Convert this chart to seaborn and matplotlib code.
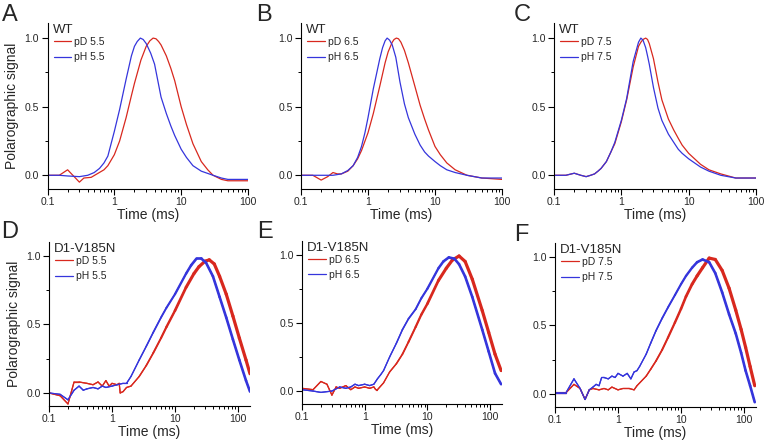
import numpy as np
import pandas as pd
import matplotlib
matplotlib.use("Agg")
import matplotlib.pyplot as plt
import matplotlib.ticker as mticker
from matplotlib.collections import LineCollection
import seaborn as sns

# ---- data (time in ms, normalised signal) ----
t_a_red = [0.1, 0.15, 0.2, 0.3, 0.35, 0.45, 0.55, 0.7, 0.8, 1.0, 1.2, 1.5, 1.8, 2.0, 2.5, 3.0, 3.4, 3.8, 4.2, 4.6, 5.0,
           6.0, 7.0, 8.0, 10, 12, 15, 20, 25, 30, 40, 50, 70, 100]
red_a = [0.0, 0.0, 0.04, -0.05, -0.02, -0.015, 0.01, 0.04, 0.07, 0.15, 0.25, 0.42, 0.58, 0.67, 0.84, 0.94, 0.98, 1.0, 0.995, 0.975, 0.95,
         0.87, 0.78, 0.69, 0.50, 0.37, 0.23, 0.10, 0.04, 0.0, -0.03, -0.04, -0.04, -0.04]
t_a_blue = [0.1, 0.15, 0.2, 0.3, 0.4, 0.5, 0.6, 0.7, 0.8, 1.0, 1.2, 1.5, 1.8, 2.0, 2.2, 2.45, 2.7, 3.0, 3.5, 4.0, 5.0, 6.0,
            7.0, 8.0, 10, 12, 15, 20, 30, 40, 50, 70, 100]
blue_a = [0.0, 0.0, -0.005, -0.01, 0.0, 0.02, 0.05, 0.09, 0.14, 0.32, 0.48, 0.70, 0.87, 0.94, 0.975, 1.0, 0.99, 0.96, 0.89, 0.81, 0.57, 0.45,
          0.36, 0.29, 0.19, 0.13, 0.07, 0.03, 0.0, -0.02, -0.03, -0.03, -0.03]

t_b_red = [0.1, 0.15, 0.2, 0.25, 0.3, 0.35, 0.4, 0.5, 0.6, 0.7, 0.8, 1.0, 1.2, 1.5, 1.8, 2.0, 2.3, 2.45, 2.65, 2.85, 3.1, 3.5,
           4.0, 5.0, 6.0, 7.0, 8.0, 10, 12, 15, 20, 30, 50, 100]
red_b = [0.0, 0.0, -0.035, -0.01, 0.02, 0.01, 0.01, 0.03, 0.07, 0.12, 0.18, 0.31, 0.45, 0.65, 0.82, 0.90, 0.97, 0.99, 1.0, 0.995, 0.97, 0.91,
         0.82, 0.65, 0.51, 0.41, 0.33, 0.21, 0.15, 0.09, 0.04, 0.0, -0.02, -0.03]
t_b_blue = [0.1, 0.2, 0.3, 0.4, 0.5, 0.6, 0.7, 0.8, 0.9, 1.0, 1.2, 1.5, 1.65, 1.8, 1.93, 2.1, 2.3, 2.6, 3.0, 3.5, 4.0, 5.0,
            6.0, 7.0, 8.0, 10, 12, 15, 20, 30, 50, 100]
blue_b = [0.0, 0.0, 0.0, 0.01, 0.035, 0.07, 0.13, 0.21, 0.31, 0.42, 0.63, 0.85, 0.93, 0.98, 1.0, 0.985, 0.95, 0.86, 0.68, 0.52, 0.42, 0.30,
          0.22, 0.17, 0.14, 0.10, 0.07, 0.04, 0.02, 0.0, -0.02, -0.02]

t_c = [0.1, 0.15, 0.2, 0.25, 0.3, 0.35, 0.4, 0.45, 0.5, 0.6, 0.7, 0.8, 1.0, 1.2, 1.5, 1.8, 1.95, 2.1, 2.3, 2.45, 2.6, 3.0,
       3.5, 4.0, 5.0, 6.0, 7.0, 8.0, 10, 15, 20, 30, 50, 100]
red_c = [0.0, 0.0, 0.015, 0.0, -0.01, 0.0, 0.01, 0.03, 0.05, 0.10, 0.17, 0.23, 0.39, 0.55, 0.79, 0.94, 0.97, 0.99, 1.0, 0.99, 0.96, 0.85,
         0.68, 0.55, 0.41, 0.33, 0.27, 0.22, 0.16, 0.08, 0.04, 0.01, -0.02, -0.02]
blue_c = [0.0, 0.0, 0.015, 0.0, -0.01, 0.0, 0.01, 0.03, 0.05, 0.10, 0.17, 0.24, 0.40, 0.56, 0.83, 0.97, 1.0, 0.985, 0.93, 0.87, 0.81, 0.64,
          0.49, 0.40, 0.30, 0.24, 0.19, 0.16, 0.12, 0.06, 0.03, 0.0, -0.02, -0.02]

t_d_red = [0.1, 0.15, 0.2, 0.25, 0.3, 0.4, 0.5, 0.6, 0.7, 0.8, 0.9, 1.0, 1.2, 1.3, 1.35, 1.5, 1.7, 2.0, 2.7, 3.5,
           4.5, 6, 7.3, 10, 15, 20, 24, 30, 35, 42, 51, 65, 83, 105, 134, 155]
red_d = [0.0, -0.02, -0.08, 0.08, 0.08, 0.07, 0.06, 0.08, 0.05, 0.09, 0.05, 0.07, 0.06, 0.07, 0.0, 0.01, 0.04, 0.05, 0.12, 0.20,
         0.29, 0.40, 0.48, 0.60, 0.77, 0.87, 0.92, 0.96, 0.97, 0.94, 0.85, 0.72, 0.56, 0.40, 0.24, 0.14]
t_d_blue = [0.1, 0.15, 0.2, 0.25, 0.3, 0.35, 0.4, 0.5, 0.6, 0.7, 0.8, 1.0, 1.2, 1.5, 1.7, 2.0, 2.7, 3.5, 4.5, 6,
            7.3, 10, 15, 18, 22, 26, 31, 40, 51, 65, 83, 105, 134, 155]
blue_d = [0.0, -0.01, -0.05, 0.02, 0.05, 0.02, 0.03, 0.04, 0.03, 0.05, 0.04, 0.05, 0.06, 0.07, 0.07, 0.12, 0.24, 0.34, 0.44, 0.55,
          0.62, 0.72, 0.87, 0.93, 0.98, 0.98, 0.95, 0.85, 0.70, 0.55, 0.39, 0.24, 0.09, 0.01]

t_e_red = [0.1, 0.15, 0.2, 0.25, 0.3, 0.35, 0.4, 0.5, 0.6, 0.7, 0.8, 1.0, 1.2, 1.4, 1.5, 1.6, 2.0, 2.5, 3.2, 4,
           5, 6.5, 8, 10, 15, 20, 25, 32, 40, 52, 75, 95, 120, 150]
red_e = [0.02, 0.01, 0.07, 0.05, -0.03, 0.03, 0.02, 0.04, 0.01, 0.03, 0.02, 0.03, 0.02, 0.03, 0.01, 0.01, 0.06, 0.14, 0.20, 0.27,
         0.36, 0.47, 0.56, 0.64, 0.81, 0.90, 0.96, 0.99, 0.95, 0.82, 0.59, 0.43, 0.27, 0.15]
t_e_blue = [0.1, 0.15, 0.2, 0.3, 0.4, 0.5, 0.6, 0.7, 0.8, 1.0, 1.2, 1.4, 1.6, 1.8, 2.0, 2.5, 3.2, 4, 5, 6.5,
            8, 10, 15, 18, 22, 27, 32, 40, 52, 75, 95, 120, 150]
blue_e = [0.01, 0.0, -0.01, 0.0, 0.03, 0.02, 0.03, 0.05, 0.04, 0.05, 0.04, 0.05, 0.09, 0.12, 0.15, 0.25, 0.35, 0.45, 0.53, 0.60,
          0.68, 0.75, 0.90, 0.95, 0.98, 0.97, 0.93, 0.84, 0.69, 0.45, 0.29, 0.13, 0.05]

t_f_red = [0.1, 0.15, 0.2, 0.25, 0.3, 0.35, 0.4, 0.5, 0.6, 0.7, 0.8, 1.0, 1.2, 1.5, 1.8, 2.0, 2.8, 3.3, 4, 5,
           6.2, 8, 10, 12, 15, 18, 22, 28, 35, 45, 58, 74, 90, 106, 125, 148]
red_f = [0.01, 0.01, 0.07, 0.04, -0.04, 0.03, 0.04, 0.03, 0.04, 0.03, 0.05, 0.03, 0.04, 0.04, 0.03, 0.06, 0.13, 0.18, 0.24, 0.32,
         0.41, 0.52, 0.62, 0.71, 0.80, 0.86, 0.92, 0.99, 0.98, 0.90, 0.77, 0.61, 0.47, 0.34, 0.20, 0.06]
t_f_blue = [0.1, 0.15, 0.2, 0.25, 0.3, 0.35, 0.4, 0.45, 0.5, 0.55, 0.6, 0.7, 0.8, 0.9, 1.0, 1.2, 1.4, 1.6, 1.8, 2.0,
            2.2, 2.8, 3.3, 4, 5, 6.2, 8, 10, 12, 15, 18, 22, 28, 35, 45, 58, 74, 90, 106, 125, 148]
blue_f = [0.01, 0.01, 0.11, 0.04, -0.04, 0.03, 0.05, 0.07, 0.06, 0.12, 0.12, 0.11, 0.13, 0.12, 0.15, 0.13, 0.15, 0.11, 0.16, 0.17,
          0.20, 0.29, 0.37, 0.46, 0.55, 0.63, 0.72, 0.80, 0.86, 0.92, 0.96, 0.98, 0.96, 0.88, 0.74, 0.58, 0.44, 0.30, 0.17, 0.06, -0.06]

letters = ["A", "B", "C", "D", "E", "F"]
strains = ["WT", "WT", "WT", "D1-V185N", "D1-V185N", "D1-V185N"]
ph_values = ["5.5", "6.5", "7.5", "5.5", "6.5", "7.5"]

red = "#d8281e"
blue = "#3535dc"

sns.set_style("ticks")
plt.rcParams["font.family"] = ["Liberation Sans", "DejaVu Sans"]
plt.rcParams["axes.linewidth"] = 0.8

W, H = 766, 446
fig = plt.figure(figsize=(W / 100, H / 100), dpi=100)

# axes boxes in pixels: left, top, right, bottom
boxes = [(47.5, 23, 248, 189), (301, 23, 502, 189), (554, 23, 756, 189),
         (49, 242, 250, 406), (302, 241, 502, 404), (555, 243, 756, 407)]
letter_pos = [(2, 4), (256, 4), (514, 4), (1, 221), (257, 221), (514, 224)]

curves = [(t_a_red, red_a, t_a_blue, blue_a), (t_b_red, red_b, t_b_blue, blue_b),
          (t_c, red_c, t_c, blue_c), (t_d_red, red_d, t_d_blue, blue_d),
          (t_e_red, red_e, t_e_blue, blue_e), (t_f_red, red_f, t_f_blue, blue_f)]


def noisy_band(ax, t, v, color, wmax):
    # the raw traces are noisy at long times, which reads as a widening band
    t = np.asarray(t, float)
    v = np.asarray(v, float)
    segs = [[(t[k], v[k]), (t[k + 1], v[k + 1])] for k in range(len(t) - 1)]
    mid = np.sqrt(t[:-1] * t[1:])
    frac = np.clip((np.log10(mid) - np.log10(2.5)) / (np.log10(20) - np.log10(2.5)), 0, 1)
    widths = 0.9 + (wmax - 0.9) * frac
    ax.add_collection(LineCollection(segs, colors=color, linewidths=widths, capstyle="round"))


for i in range(6):
    l, t, r, b = boxes[i]
    ax = fig.add_axes([l / W, 1 - b / H, (r - l) / W, (b - t) / H])
    tr, vr, tb, vb = curves[i]
    sns.lineplot(x=tr, y=vr, color=red, lw=0.9, ax=ax, label="pD " + ph_values[i], sort=False)
    sns.lineplot(x=tb, y=vb, color=blue, lw=0.9, ax=ax, label="pH " + ph_values[i], sort=False)
    ax.set_xscale("log")
    if i >= 3:
        noisy_band(ax, tr, vr, red, 2.3)
        noisy_band(ax, tb, vb, blue, 1.9)
    if i < 3:
        ax.set_xlim(0.1, 100)
        ax.set_ylim(-0.1, 1.11)
    else:
        ax.set_xlim(0.1, 155)
        ax.set_ylim(-0.095, 1.10)
    ax.xaxis.set_major_locator(mticker.LogLocator(base=10))
    ax.xaxis.set_minor_locator(mticker.LogLocator(base=10, subs=np.arange(2, 10)))
    ax.xaxis.set_major_formatter(mticker.FuncFormatter(lambda v, p: f"{v:g}"))
    ax.xaxis.set_minor_formatter(mticker.NullFormatter())
    ax.set_yticks([0, 0.5, 1.0])
    ax.set_yticklabels(["0.0", "0.5", "1.0"])
    ax.set_yticks([0.25, 0.75], minor=True)
    ax.tick_params(which="major", length=4, width=0.8, labelsize=7.5, pad=2, color="black")
    ax.tick_params(which="minor", length=2.2, width=0.7, color="black")
    sns.despine(ax=ax)
    for s in ["left", "bottom"]:
        ax.spines[s].set_color("black")
    ax.set_xlabel("Time (ms)", fontsize=10, labelpad=0.5)
    if i in (0, 3):
        ax.set_ylabel("Polarographic signal", fontsize=10, labelpad=4)
    else:
        ax.set_ylabel("")
    ax.text(0.025, 0.995, strains[i], transform=ax.transAxes, fontsize=9.5, va="top", ha="left")
    ax.legend(loc="upper left", bbox_to_anchor=(0.03, 0.915), frameon=False, borderpad=0, borderaxespad=0,
              handlelength=1.7, handletextpad=0.3, labelspacing=0.5, fontsize=7.5)
    fig.text(letter_pos[i][0] / W, 1 - letter_pos[i][1] / H, letters[i], fontsize=17, va="top", ha="left")

fig.savefig("out.png", dpi=100)
